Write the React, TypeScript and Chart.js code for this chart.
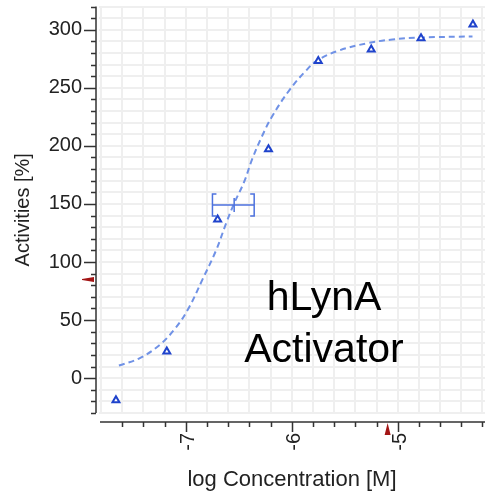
import React, { useEffect, useRef } from "react";
import { Chart, registerables } from "chart.js";

Chart.register(...registerables);

// ---- data ----
const pointLogConc = [-7.66, -7.18, -6.70, -6.22, -5.75, -5.25, -4.78, -4.29];
const pointActivity = [-19, 23, 136.5, 197, 273, 283, 292.6, 304.6];

const fitLogConc = [
  -7.632, -7.443, -7.253, -7.093, -6.97, -6.847, -6.715, -6.62, -6.544, -6.45,
  -6.374, -6.28, -6.185, -6.024, -5.864, -5.76, -5.551, -5.296, -5.05, -4.776, -4.294,
];
const fitActivity = [
  10.9, 16.9, 28.2, 43.7, 60.9, 84.2, 110.0, 133.3, 150.5, 169.0,
  188.5, 208.5, 225.5, 247.8, 265.0, 273.6, 282.2, 288.2, 291.6, 293.3, 294.2,
];

const ec50Log = -6.544;
const ec50LowLog = -6.749;
const ec50HighLog = -6.355;
const ec50Activity = 149;

const yMarkerValue = 85;
const xMarkerValue = -5.095;

const xRange = [-7.82, -4.176];
const yRange = [-30, 320];
const xTickFirst = -7.8;
const xTickLast = -4.2;
const xMinorStep = 0.2;
const yMinorStep = 10;
const yLabelStep = 50;

const xTitle = "log Concentration [M]";
const yTitle = "Activities [%]";
const noteLines = ["hLynA", "Activator"];

const FONT = '"Liberation Sans", Arial, sans-serif';

const isWhole = (v: number) => Math.abs(v - Math.round(v)) < 1e-6;

const stepValues = (from: number, to: number, step: number) => {
  const n = Math.round((to - from) / step);
  const out: number[] = [];
  for (let i = 0; i <= n; i++) out.push(Math.round((from + i * step) * 1000) / 1000);
  return out;
};
const xTickValues = stepValues(xTickFirst, xTickLast, xMinorStep);
const yTickValues = stepValues(yRange[0], yRange[1], yMinorStep);

const decorPlugin = {
  id: "decor",
  beforeDatasetsDraw(chart: any) {
    const { ctx, chartArea } = chart;
    ctx.save();
    ctx.fillStyle = "#000000";
    ctx.font = `41px ${FONT}`;
    ctx.textAlign = "center";
    ctx.textBaseline = "alphabetic";
    const cx = chartArea.left + 225;
    ctx.fillText(noteLines[0], cx, chartArea.top + 303.5);
    ctx.fillText(noteLines[1], cx, chartArea.top + 355.5);
    ctx.restore();
  },
  afterDatasetsDraw(chart: any) {
    const { ctx, scales } = chart;
    const xs = scales.x;
    const ys = scales.y;
    const py = ys.getPixelForValue(ec50Activity);
    const pl = xs.getPixelForValue(ec50LowLog);
    const ph = xs.getPixelForValue(ec50HighLog);
    const pc = xs.getPixelForValue(ec50Log);
    ctx.save();
    ctx.strokeStyle = "#4d72de";
    ctx.lineWidth = 1.5;
    ctx.beginPath();
    ctx.moveTo(pl, py);
    ctx.lineTo(ph, py);
    ctx.moveTo(pl + 4, py - 11);
    ctx.lineTo(pl, py - 11);
    ctx.lineTo(pl, py + 11);
    ctx.lineTo(pl + 4, py + 11);
    ctx.moveTo(ph - 4, py - 11);
    ctx.lineTo(ph, py - 11);
    ctx.lineTo(ph, py + 11);
    ctx.lineTo(ph - 4, py + 11);
    ctx.moveTo(pc, py - 7);
    ctx.lineTo(pc, py + 7);
    ctx.stroke();
    ctx.restore();
  },
  afterDraw(chart: any) {
    const { ctx, chartArea, scales } = chart;
    const xs = scales.x;
    const ys = scales.y;
    const axX = chartArea.left - 3;
    const axY = chartArea.bottom + 9;
    ctx.save();
    ctx.strokeStyle = "#333333";
    ctx.lineWidth = 1.5;
    ctx.beginPath();
    ctx.moveTo(axX, chartArea.top);
    ctx.lineTo(axX, chartArea.bottom);
    yTickValues.forEach((v) => {
      const p = Math.round(ys.getPixelForValue(v)) + 0.5;
      const len = isWhole(v / yLabelStep) ? 12 : 5;
      ctx.moveTo(axX - len, p);
      ctx.lineTo(axX, p);
    });
    ctx.moveTo(chartArea.left + 1, axY);
    ctx.lineTo(chartArea.right, axY);
    xTickValues.forEach((v, i) => {
      if (i === 0) return;
      const p = Math.round(xs.getPixelForValue(v)) + 0.5;
      const len = isWhole(v) ? 10 : 5;
      ctx.moveTo(p, axY);
      ctx.lineTo(p, axY + len);
    });
    ctx.stroke();

    ctx.fillStyle = "#a31515";
    const my = ys.getPixelForValue(yMarkerValue);
    ctx.beginPath();
    ctx.moveTo(axX - 14, my - 0.5);
    ctx.lineTo(axX - 2, my - 2.5);
    ctx.lineTo(axX - 2, my + 2.5);
    ctx.lineTo(axX - 14, my + 0.5);
    ctx.closePath();
    ctx.fill();
    const mx = xs.getPixelForValue(xMarkerValue);
    ctx.beginPath();
    ctx.moveTo(mx, axY + 1);
    ctx.lineTo(mx + 3, axY + 13);
    ctx.lineTo(mx - 3, axY + 13);
    ctx.closePath();
    ctx.fill();
    ctx.restore();
  },
};

export default function App() {
  const ref = useRef<HTMLCanvasElement | null>(null);

  useEffect(() => {
    if (!ref.current) return;
    const points = pointLogConc.map((x, i) => ({ x, y: pointActivity[i] }));
    const fit = fitLogConc.map((x, i) => ({ x, y: fitActivity[i] }));
    const chart = new Chart(ref.current, {
      type: "scatter",
      data: {
        datasets: [
          {
            label: "Activities",
            data: points,
            showLine: false,
            pointStyle: "triangle",
            pointRadius: 4,
            pointBorderWidth: 2,
            pointBorderColor: "#1f43cc",
            pointBackgroundColor: "#ffffff",
          },
          {
            label: "Fit",
            data: fit,
            showLine: true,
            borderColor: "#7092e6",
            borderWidth: 2,
            borderDash: [6, 4],
            pointRadius: 0,
            tension: 0.4,
            fill: false,
          },
        ],
      },
      options: {
        responsive: false,
        animation: false,
        devicePixelRatio: 1,
        layout: { autoPadding: false, padding: { top: 6.5, right: 0, left: 0, bottom: 0 } },
        plugins: { legend: { display: false }, tooltip: { enabled: false } },
        scales: {
          x: {
            type: "linear",
            min: xRange[0],
            max: xRange[1],
            border: { display: false },
            grid: { color: "#efefef", lineWidth: 2, drawTicks: false },
            afterBuildTicks: (s: any) => {
              s.ticks = xTickValues.map((value) => ({ value }));
            },
            ticks: {
              autoSkip: false,
              minRotation: 90,
              maxRotation: 90,
              padding: 20,
              labelOffset: 3,
              color: "#222222",
              font: { family: FONT, size: 20 },
              callback: (v: any) => (isWhole(Number(v)) ? String(Math.round(Number(v))) : ""),
            },
            title: {
              display: true,
              text: xTitle,
              color: "#222222",
              font: { family: FONT, size: 22 },
              padding: { top: 0, bottom: 3 },
            },
            afterFit: (s: any) => {
              s.height = 83;
              s.paddingLeft = 0;
              s.paddingRight = 0;
            },
          },
          y: {
            type: "linear",
            min: yRange[0],
            max: yRange[1],
            border: { display: false },
            grid: { color: "#efefef", lineWidth: 2, drawTicks: false },
            afterBuildTicks: (s: any) => {
              s.ticks = yTickValues.map((value) => ({ value }));
            },
            ticks: {
              autoSkip: false,
              padding: 17,
              color: "#222222",
              font: { family: FONT, size: 20 },
              callback: (v: any) => (isWhole(Number(v) / yLabelStep) ? String(Math.round(Number(v))) : ""),
            },
            title: {
              display: true,
              text: yTitle,
              color: "#222222",
              font: { family: FONT, size: 20 },
              padding: { top: 11.5, bottom: 0 },
            },
            afterFit: (s: any) => {
              s.width = 99;
              s.paddingTop = 0;
              s.paddingBottom = 0;
            },
          },
        },
      },
      plugins: [decorPlugin],
    } as any);
    return () => chart.destroy();
  }, []);

  return (
    <div style={{ position: "absolute", left: 0, top: 0, width: 485, height: 496, background: "#ffffff" }}>
      <canvas ref={ref} width={485} height={496} style={{ display: "block" }} />
    </div>
  );
}
